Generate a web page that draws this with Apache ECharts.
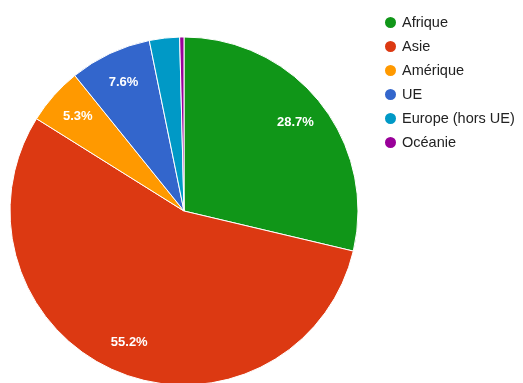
<!DOCTYPE html>
<html>
<head>
<meta charset="utf-8">
<script src="https://cdn.jsdelivr.net/npm/echarts@6/dist/echarts.min.js"></script>
<style>
html,body{margin:0;padding:0;background:#fff;}
#c{width:523px;height:383px;}
</style>
</head>
<body>
<div id="c"></div>
<script>
var categories = ['Afrique', 'Asie', 'Amérique', 'UE', 'Europe (hors UE)', 'Océanie'];
var values = [28.7, 55.2, 5.3, 7.6, 2.8, 0.4];
var colors = ['#109618', '#dc3912', '#ff9900', '#3366cc', '#0099c6', '#990099'];

var data = categories.map(function (n, i) { return { name: n, value: values[i] }; });

var chart = echarts.init(document.getElementById('c'), null, { renderer: 'canvas' });
chart.setOption({
  animation: false,
  color: colors,
  textStyle: { fontFamily: 'Liberation Sans, Arial, sans-serif' },
  legend: {
    orient: 'vertical',
    left: 378,
    top: 10,
    icon: 'circle',
    itemWidth: 13,
    itemHeight: 13,
    itemGap: 9,
    textStyle: { fontSize: 14.5, color: '#222', fontFamily: 'Liberation Sans, Arial, sans-serif' },
    data: categories
  },
  series: [
    {
      type: 'pie',
      center: [184, 211],
      radius: [0, 174],
      startAngle: 90,
      clockwise: true,
      avoidLabelOverlap: false,
      label: { show: false },
      labelLine: { show: false },
      itemStyle: { borderColor: '#fff', borderWidth: 1 },
      emphasis: { scale: false },
      data: data
    },
    {
      type: 'pie',
      center: [184, 211],
      radius: [127, 151],
      startAngle: 90,
      clockwise: true,
      silent: true,
      avoidLabelOverlap: false,
      legendHoverLink: false,
      itemStyle: { color: 'rgba(0,0,0,0)' },
      labelLine: { show: false },
      label: {
        show: true,
        position: 'inside',
        color: '#fff',
        fontWeight: 'bold',
        fontSize: 13,
        fontFamily: 'Liberation Sans, Arial, sans-serif',
        formatter: function (p) { return p.value >= 5 ? p.value.toFixed(1) + '%' : ''; }
      },
      emphasis: { disabled: true },
      data: data
    }
  ]
});
</script>
</body>
</html>
